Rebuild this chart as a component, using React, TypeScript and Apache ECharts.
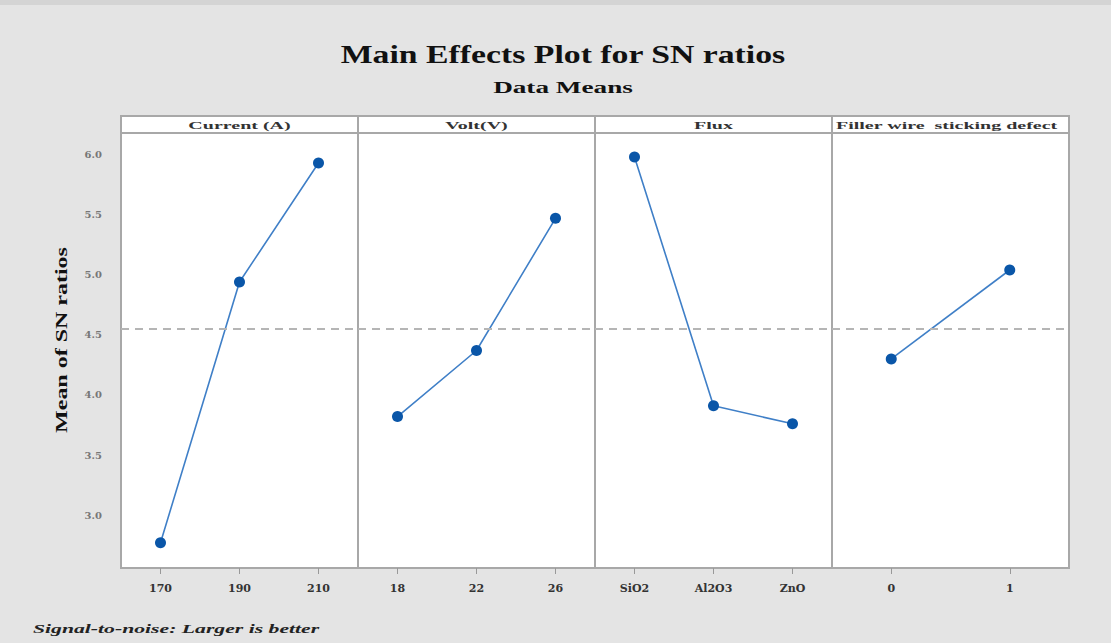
import React, { useEffect, useRef } from "react";
import * as echarts from "echarts";

const panelNames = ["Current (A)", "Volt(V)", "Flux", "Filler wire  sticking defect"];
const currentLevels = ["170", "190", "210"];
const currentValues = [2.77, 4.94, 5.93];
const voltLevels = ["18", "22", "26"];
const voltValues = [3.82, 4.37, 5.47];
const fluxLevels = ["SiO2", "Al2O3", "ZnO"];
const fluxValues = [5.98, 3.91, 3.76];
const fillerLevels = ["0", "1"];
const fillerValues = [4.3, 5.04];
const overallMean = 4.55;
const yTicks = [3.0, 3.5, 4.0, 4.5, 5.0, 5.5, 6.0];

const levels = [currentLevels, voltLevels, fluxLevels, fillerLevels];
const values = [currentValues, voltValues, fluxValues, fillerValues];

const PANEL_LEFT = 121;
const PANEL_W = 237;
const TOP = 133;
const HEIGHT = 435;
const HEADER_H = 17;
const Y_MIN = 2.56;
const Y_MAX = 6.18;

export default function App() {
  const ref = useRef<HTMLDivElement>(null);
  useEffect(() => {
    if (!ref.current) return;
    const chart = echarts.init(ref.current, null, { renderer: "svg" });
    const serif = "Liberation Serif";
    const wide = "DejaVu Serif";
    const grids = levels.map((_, i) => ({
      left: PANEL_LEFT + i * PANEL_W,
      top: TOP,
      width: PANEL_W,
      height: HEIGHT,
      show: true,
      backgroundColor: "#ffffff",
      borderColor: "#a8a8a8",
      borderWidth: 2,
      containLabel: false,
    }));
    const xAxes = levels.map((lv, i) => ({
      type: "category",
      gridIndex: i,
      data: lv,
      boundaryGap: true,
      axisLine: { show: false },
      axisTick: { show: true, alignWithLabel: true, length: 6, inside: false, lineStyle: { color: "#999", width: 1 } },
      axisLabel: { color: "#333", fontFamily: wide, fontWeight: "bold", fontSize: 11, margin: 15 },
      splitLine: { show: false },
    }));
    const yAxes = levels.map((_, i) => ({
      type: "value",
      gridIndex: i,
      min: Y_MIN,
      max: Y_MAX,
      axisLine: { show: false },
      axisTick: { show: false },
      splitLine: { show: false },
      axisLabel: {
        show: i === 0,
        customValues: yTicks,
        formatter: (v: number) => v.toFixed(1),
        color: "#777",
        fontFamily: wide,
        fontWeight: "bold",
        fontSize: 10,
        margin: 19,
      },
    }));
    const series = levels.map((_, i) => ({
      type: "line",
      xAxisIndex: i,
      yAxisIndex: i,
      data: values[i],
      symbol: "circle",
      symbolSize: 11,
      itemStyle: { color: "#0a56a8" },
      lineStyle: { color: "#3f7fc7", width: 1.6 },
      markLine: {
        silent: true,
        symbol: "none",
        label: { show: false },
        lineStyle: { color: "#b5b5b5", type: [8, 6], width: 2 },
        data: [{ yAxis: overallMean }],
      },
    }));
    const headers: any[] = [];
    panelNames.forEach((name, i) => {
      const x = PANEL_LEFT + i * PANEL_W;
      headers.push({
        type: "rect",
        shape: { x, y: TOP - HEADER_H, width: PANEL_W, height: HEADER_H },
        style: { fill: "#ffffff", stroke: "#a8a8a8", lineWidth: 2 },
      });
      const long = name.length > 20;
      headers.push({
        type: "text",
        x: long ? x + 4 : x + PANEL_W / 2,
        y: TOP - HEADER_H / 2 + 1,
        scaleX: 2.0,
        style: {
          text: name,
          fill: "#333",
          font: `bold 10px "${serif}"`,
          textAlign: long ? "left" : "center",
          textVerticalAlign: "middle",
        },
      });
    });
    chart.setOption({
      animation: false,
      backgroundColor: "#e4e4e4",
      grid: grids,
      xAxis: xAxes,
      yAxis: yAxes,
      series,
      graphic: [
        {
          type: "rect",
          shape: { x: 0, y: 0, width: 1111, height: 5 },
          style: { fill: "#d4d4d4" },
          silent: true,
        },
        {
          type: "text",
          x: 563,
          y: 55,
          scaleX: 1.35,
          style: {
            text: "Main Effects Plot for SN ratios",
            fill: "#111",
            font: `bold 25px "${serif}"`,
            textAlign: "center",
            textVerticalAlign: "middle",
          },
        },
        {
          type: "text",
          x: 563,
          y: 87,
          scaleX: 1.6,
          style: {
            text: "Data Means",
            fill: "#111",
            font: `bold 17px "${serif}"`,
            textAlign: "center",
            textVerticalAlign: "middle",
          },
        },
        ...headers,
        {
          type: "text",
          x: 62,
          y: 340,
          rotation: Math.PI / 2,
          scaleX: 1.5,
          style: {
            text: "Mean of SN ratios",
            fill: "#111",
            font: `bold 16px "${serif}"`,
            textAlign: "center",
            textVerticalAlign: "middle",
          },
        },
        {
          type: "text",
          x: 33,
          y: 629,
          scaleX: 1.67,
          style: {
            text: "Signal-to-noise: Larger is better",
            fill: "#222",
            font: `italic bold 13px "${serif}"`,
            textAlign: "left",
            textVerticalAlign: "middle",
          },
        },
      ],
    });
    return () => chart.dispose();
  }, []);
  return (
    <div
      ref={ref}
      style={{ position: "fixed", left: 0, top: 0, width: 1111, height: 643 }}
    />
  );
}
